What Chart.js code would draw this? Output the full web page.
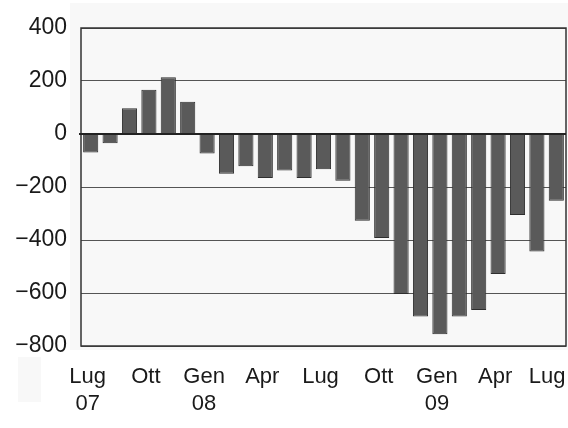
<!DOCTYPE html>
<html>
<head>
<meta charset="utf-8">
<script src="https://cdn.jsdelivr.net/npm/chart.js@4"></script>
<style>
  html, body { margin: 0; padding: 0; background: #fff; }
  #wrap { width: 568px; height: 428px; }
</style>
</head>
<body>
<div id="wrap"><canvas id="chart" width="568" height="428"></canvas></div>
<script>
// months Lug 07 .. Lug 09
const months = ['Lug 07', 'Ago', 'Set', 'Ott', 'Nov', 'Dic', 'Gen 08', 'Feb', 'Mar', 'Apr', 'Mag', 'Giu',
    'Lug', 'Ago', 'Set', 'Ott', 'Nov', 'Dic', 'Gen 09', 'Feb', 'Mar', 'Apr', 'Mag', 'Giu', 'Lug'];
const tickLabels = { 0: ['Lug', '07'], 3: ['Ott'], 6: ['Gen', '08'], 9: ['Apr'], 12: ['Lug'],
    15: ['Ott'], 18: ['Gen', '09'], 21: ['Apr'], 24: ['Lug\u00a0\u00a0'] };
const values = [-70, -35, 97, 167, 214, 122, -74, -150, -122, -166, -138, -166,
    -133, -176, -327, -392, -604, -689, -756, -689, -664, -528, -306, -443, -252];
const yTicks = [-800, -600, -400, -200, 0, 200, 400];

const FONT = 'Liberation Sans, Arial, sans-serif';

// light grey panel behind the plot + plot frame
const panelPlugin = {
    id: 'panel',
    beforeDraw(chart) {
        const ctx = chart.ctx;
        ctx.save();
        ctx.fillStyle = '#f8f8f8';
        ctx.fillRect(70, 3, 498, 347);
        ctx.fillRect(18, 357, 23, 45);
        ctx.restore();
    },
    afterDatasetsDraw(chart) {
        const a = chart.chartArea;
        const ctx = chart.ctx;
        ctx.save();
        ctx.strokeStyle = '#333';
        ctx.lineWidth = 1.5;
        ctx.strokeRect(a.left, a.top, a.right - a.left, a.bottom - a.top);
        // zero line
        const y0 = chart.scales.y.getPixelForValue(0);
        ctx.lineWidth = 2;
        ctx.strokeStyle = '#222';
        ctx.beginPath();
        ctx.moveTo(a.left - 2, y0);
        ctx.lineTo(a.right, y0);
        ctx.stroke();
        ctx.restore();
    }
};

new Chart(document.getElementById('chart'), {
    type: 'bar',
    data: {
        labels: months,
        datasets: [{
            data: values,
            backgroundColor: '#5a5a5a',
            borderColor: '#2e2e2e',
            borderWidth: 1,
            categoryPercentage: 1,
            barPercentage: 0.78
        }]
    },
    options: {
        responsive: false,
        animation: false,
        layout: { padding: { top: 28, right: 2, left: 0, bottom: 0 } },
        plugins: { legend: { display: false }, tooltip: { enabled: false } },
        scales: {
            x: {
                grid: { display: false, drawTicks: false },
                border: { display: false },
                ticks: {
                    autoSkip: false,
                    maxRotation: 0,
                    minRotation: 0,
                    padding: 18,
                    labelOffset: -3,
                    color: '#1a1a1a',
                    font: { family: FONT, size: 22 },
                    callback: (v, i) => tickLabels[i] || ''
                },
                afterFit: s => {
                    s.height = 82;
                    s.paddingLeft = 0;
                    s.paddingRight = 2;
                }
            },
            y: {
                min: -800,
                max: 400,
                afterBuildTicks: s => { s.ticks = yTicks.map(v => ({ value: v })); },
                grid: { color: '#555', lineWidth: 1, drawTicks: false },
                border: { display: false },
                ticks: {
                    padding: 14,
                    color: '#1a1a1a',
                    font: { family: FONT, size: 23 },
                    callback: v => String(v).replace('-', '\u2212')
                },
                afterFit: s => {
                    s.width = 81;
                    s.paddingTop = 0;
                    s.paddingBottom = 0;
                }
            }
        }
    },
    plugins: [panelPlugin]
});
</script>
</body>
</html>
